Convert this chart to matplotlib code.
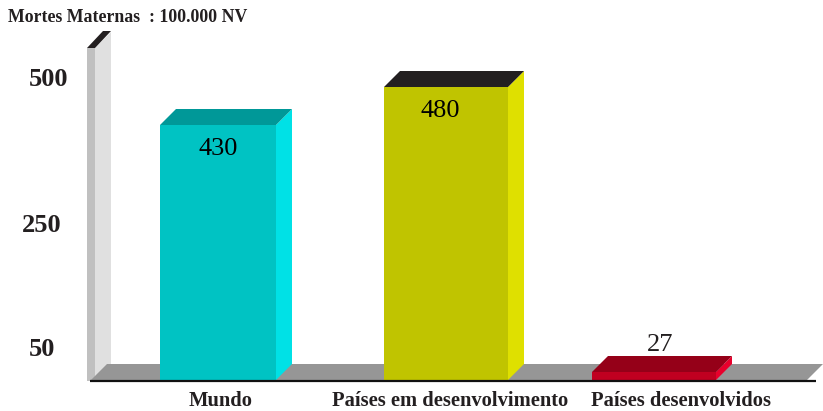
import numpy as np
import matplotlib
matplotlib.use('Agg')
import matplotlib.pyplot as plt
from matplotlib.patches import Polygon

categories = ['Mundo', 'Países em desenvolvimento', 'Países desenvolvidos']
values = [430, 480, 27]
y_ticks = [50, 250, 500]
title = 'Mortes Maternas  : 100.000 NV'

# the drawing's axis is not linear, so calibrate value -> pixels above baseline
scale_vals = [-1000, 0, 27, 50, 250, 430, 480, 500, 1500]
scale_px = [-1000, 0, 8, 32, 156, 255, 293, 302, 1302]

def forward(v):
    return np.interp(v, scale_vals, scale_px)

def inverse(p):
    return np.interp(p, scale_px, scale_vals)

def lift(v, px):
    return inverse(forward(v) + px)

# layout in pixels
left_edges = [160, 384, 592]
widths = [116, 124, 124]
label_x = [221, 450, 681]
tick_x = [29, 22, 29]
tick_shift = [-1, -1, -2]
val_dx = [0, -6, 6]
val_dy = [-24, -24, 27]
depth = 16
front_cols = ['#00c3c3', '#c0c400', '#c00020']
side_cols = ['#00e1e6', '#dfe000', '#e8002c']
top_cols = ['#009898', '#231f20', '#950018']
dark = '#231f20'

fig = plt.figure(figsize=(8.23, 4.11), dpi=100)
ax = fig.add_axes([0, 0, 1, 1])
ax.set_yscale('function', functions=(forward, inverse))
ax.set_xlim(0, 823)
ax.set_ylim(-31, inverse(380))
ax.axis('off')

wall_top = inverse(332)
# back wall
ax.add_patch(Polygon([(95, lift(0, -1)), (95, wall_top), (111, lift(wall_top, depth)), (111, lift(0, depth))],
                     fc='#e0e0e0', ec='none'))
ax.add_patch(Polygon([(87, lift(0, -1)), (95, lift(0, -1)), (95, wall_top), (87, wall_top)], fc='#c0c0c0', ec='none'))
ax.add_patch(Polygon([(87, wall_top), (95, wall_top), (111, lift(wall_top, depth + 1)), (103, lift(wall_top, depth + 1))],
                     fc=dark, ec='none'))
# floor
ax.add_patch(Polygon([(91, 0), (807, 0), (823, lift(0, depth)), (107, lift(0, depth))], fc='#969696', ec='none'))

for i in range(3):
    x0 = left_edges[i]
    x1 = x0 + widths[i]
    v = values[i]
    ax.bar(x0, v, width=widths[i], align='edge', color=front_cols[i], zorder=3)
    ax.add_patch(Polygon([(x1, 0), (x1, v), (x1 + depth, lift(v, depth)), (x1 + depth, lift(0, depth))],
                         fc=side_cols[i], ec='none', zorder=3))
    ax.add_patch(Polygon([(x0, v), (x1, v), (x1 + depth, lift(v, depth)), (x0 + depth, lift(v, depth))],
                         fc=top_cols[i], ec='none', zorder=3))
    ax.text(x0 + widths[i] / 2 + val_dx[i], lift(v, val_dy[i]), str(v), ha='center', va='center', fontsize=19,
            family='Liberation Serif', color='black' if v > 100 else dark, zorder=4)
    ax.text(label_x[i], lift(0, -26), categories[i], ha='center', va='baseline', fontsize=14.75,
            family='Liberation Serif', weight='bold', color=dark)

ax.plot([90, 816], [lift(0, -0.5), lift(0, -0.5)], color='#111111', lw=1.6, zorder=5, solid_capstyle='butt')

for i in range(3):
    ax.text(tick_x[i], lift(y_ticks[i], tick_shift[i]), str(y_ticks[i]), ha='left', va='center', fontsize=19,
            family='Liberation Serif', weight='bold', color=dark)

fig.text(8 / 823, 1 - 18 / 411, title, ha='left', va='center', fontsize=12.8,
         family='Liberation Serif', weight='bold', color=dark)

plt.savefig('out.png', dpi=100)
